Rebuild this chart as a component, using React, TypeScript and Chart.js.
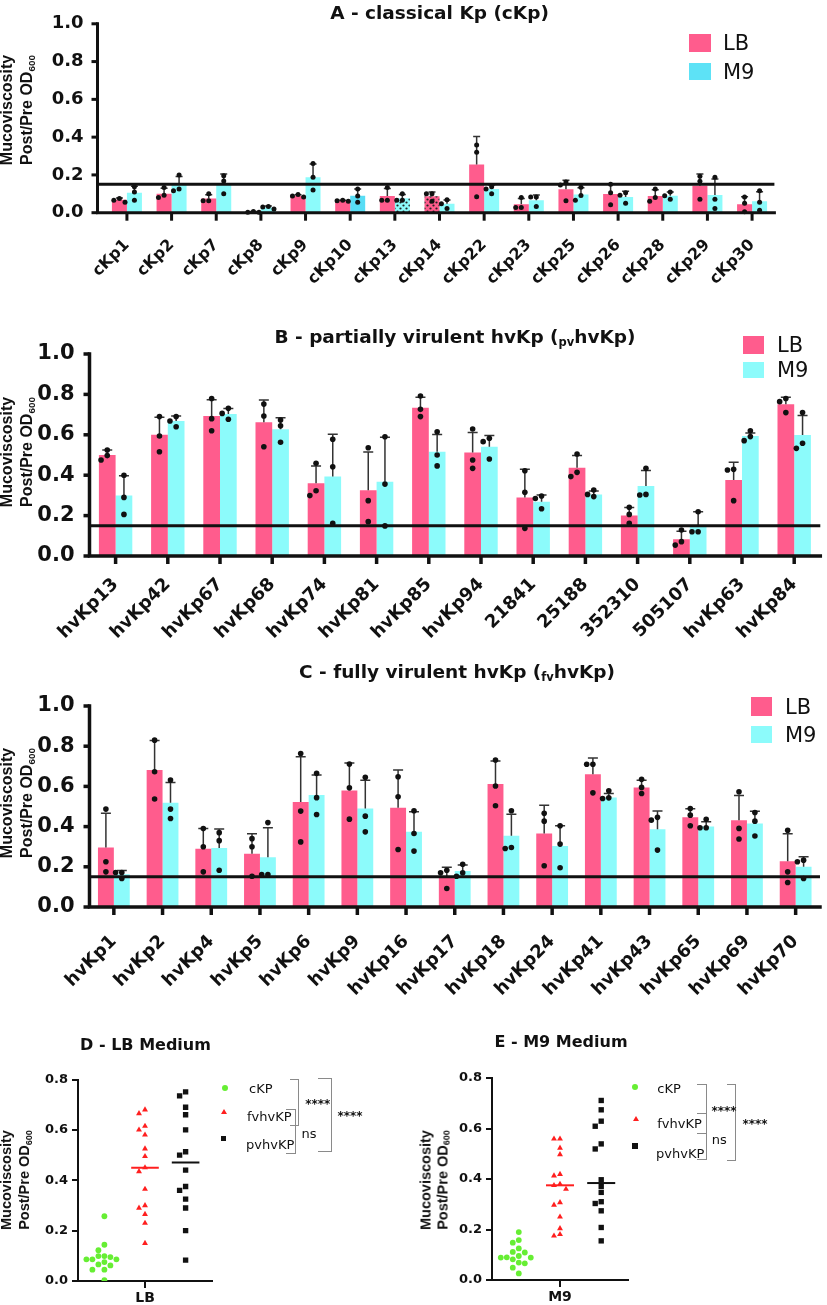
import React, { useEffect, useRef } from "react";
import { Chart, registerables } from "chart.js";
Chart.register(...registerables);

// ---------------- DATA ----------------
const THRESHOLD = 0.15;

// Panel A - classical Kp
const aLabels = ["cKp1", "cKp2", "cKp7", "cKp8", "cKp9", "cKp10", "cKp13", "cKp14", "cKp22", "cKp23", "cKp25", "cKp26", "cKp28", "cKp29", "cKp30"];
const aLBMean = [0.068, 0.1, 0.075, 0.004, 0.089, 0.063, 0.088, 0.087, 0.255, 0.045, 0.124, 0.099, 0.088, 0.143, 0.045];
const aLBSd = [0.01, 0.03, 0.02, 0.003, 0.006, 0.003, 0.04, 0.023, 0.148, 0.03, 0.048, 0.054, 0.034, 0.062, 0.04];
const aLBReps = [[0.055, 0.075, 0.066], [0.08, 0.133, 0.093], [0.063, 0.1, 0.063], [0.002, 0.007, 0.002], [0.083, 0.096, 0.088], [0.06, 0.066, 0.063], [0.066, 0.133, 0.066], [0.1, 0.1, 0.06], [0.359, 0.32, 0.085], [0.027, 0.08, 0.027], [0.163, 0.146, 0.063], [0.15, 0.105, 0.042], [0.06, 0.125, 0.08], [0.193, 0.166, 0.071], [0.083, 0.05, 0.005]];
const aM9Mean = [0.105, 0.147, 0.155, 0.028, 0.188, 0.09, 0.077, 0.047, 0.126, 0.066, 0.097, 0.083, 0.09, 0.094, 0.061];
const aM9Sd = [0.035, 0.045, 0.05, 0.007, 0.07, 0.035, 0.02, 0.02, 0.02, 0.028, 0.035, 0.03, 0.02, 0.085, 0.05];
const aM9Reps = [[0.138, 0.066, 0.11], [0.116, 0.2, 0.126], [0.196, 0.1, 0.168], [0.02, 0.033, 0.03], [0.26, 0.188, 0.12], [0.055, 0.126, 0.088], [0.1, 0.066, 0.066], [0.068, 0.022, 0.047], [0.138, 0.1, 0.125], [0.083, 0.033, 0.083], [0.066, 0.135, 0.091], [0.105, 0.093, 0.05], [0.11, 0.071, 0.09], [0.188, 0.071, 0.022], [0.116, 0.055, 0.013]];

// Panel B - partially virulent hvKp
const bLabels = ["hvKp13", "hvKp42", "hvKp67", "hvKp68", "hvKp74", "hvKp81", "hvKp85", "hvKp94", "21841", "25188", "352310", "505107", "hvKp63", "hvKp84"];
const bLBMean = [0.5, 0.6, 0.693, 0.662, 0.36, 0.325, 0.734, 0.512, 0.289, 0.437, 0.2, 0.083, 0.376, 0.751];
const bLBSd = [0.025, 0.087, 0.08, 0.11, 0.086, 0.19, 0.052, 0.1, 0.14, 0.06, 0.04, 0.04, 0.088, 0.035];
const bLBReps = [[0.475, 0.525, 0.497], [0.69, 0.594, 0.516], [0.78, 0.68, 0.62], [0.752, 0.693, 0.541], [0.459, 0.299, 0.323], [0.536, 0.274, 0.17], [0.792, 0.726, 0.69], [0.629, 0.475, 0.434], [0.422, 0.315, 0.137], [0.505, 0.393, 0.414], [0.241, 0.206, 0.162], [0.129, 0.054, 0.071], [0.429, 0.426, 0.274], [0.78, 0.764, 0.71]];
const bM9Mean = [0.3, 0.668, 0.703, 0.627, 0.393, 0.368, 0.516, 0.541, 0.269, 0.305, 0.347, 0.145, 0.594, 0.599];
const bM9Sd = [0.097, 0.025, 0.027, 0.058, 0.21, 0.22, 0.086, 0.055, 0.033, 0.017, 0.076, 0.074, 0.015, 0.096];
const bM9Reps = [[0.4, 0.29, 0.206], [0.64, 0.69, 0.668], [0.731, 0.677, 0.706], [0.673, 0.645, 0.563], [0.578, 0.442, 0.162], [0.59, 0.356, 0.149], [0.615, 0.5, 0.446], [0.583, 0.48, 0.566], [0.297, 0.285, 0.234], [0.327, 0.294, 0.305], [0.434, 0.302, 0.305], [0.219, 0.12, 0.12], [0.62, 0.571, 0.591], [0.71, 0.533, 0.558]];

// Panel C - fully virulent hvKp
const cLabels = ["hvKp1", "hvKp2", "hvKp4", "hvKp5", "hvKp6", "hvKp9", "hvKp16", "hvKp17", "hvKp18", "hvKp24", "hvKp41", "hvKp43", "hvKp65", "hvKp69", "hvKp70"];
const cLBMean = [0.296, 0.681, 0.29, 0.265, 0.522, 0.58, 0.494, 0.15, 0.612, 0.366, 0.661, 0.595, 0.446, 0.432, 0.228];
const cLBSd = [0.17, 0.147, 0.1, 0.1, 0.226, 0.137, 0.187, 0.048, 0.114, 0.14, 0.08, 0.035, 0.043, 0.123, 0.137];
const cLBReps = [[0.487, 0.225, 0.175], [0.83, 0.673, 0.537], [0.39, 0.3, 0.175], [0.34, 0.3, 0.153], [0.764, 0.477, 0.324], [0.711, 0.593, 0.437], [0.648, 0.548, 0.286], [0.183, 0.17, 0.092], [0.731, 0.602, 0.504], [0.466, 0.427, 0.205], [0.71, 0.71, 0.568], [0.635, 0.595, 0.565], [0.49, 0.457, 0.404], [0.573, 0.391, 0.338], [0.382, 0.175, 0.122]];
const cM9Mean = [0.163, 0.519, 0.294, 0.248, 0.557, 0.49, 0.374, 0.179, 0.355, 0.304, 0.545, 0.387, 0.4, 0.416, 0.2];
const cM9Sd = [0.018, 0.1, 0.094, 0.146, 0.1, 0.14, 0.1, 0.03, 0.107, 0.1, 0.02, 0.09, 0.024, 0.06, 0.05];
const cM9Reps = [[0.142, 0.172, 0.172], [0.632, 0.487, 0.44], [0.37, 0.33, 0.183], [0.162, 0.162, 0.42], [0.665, 0.544, 0.46], [0.645, 0.452, 0.374], [0.479, 0.366, 0.278], [0.153, 0.213, 0.17], [0.479, 0.291, 0.296], [0.404, 0.313, 0.195], [0.54, 0.578, 0.543], [0.446, 0.432, 0.283], [0.394, 0.436, 0.394], [0.47, 0.427, 0.353], [0.233, 0.225, 0.142]];

// Panel D - LB medium
const dCKP = [0.257, 0.144, 0.122, 0.099, 0.099, 0.095, 0.086, 0.086, 0.086, 0.075, 0.066, 0.062, 0.045, 0.045, 0.003];
const dFv = [0.68, 0.665, 0.615, 0.6, 0.58, 0.525, 0.495, 0.45, 0.435, 0.365, 0.3, 0.29, 0.265, 0.23, 0.15];
const dPv = [0.751, 0.735, 0.69, 0.66, 0.6, 0.513, 0.5, 0.44, 0.375, 0.36, 0.325, 0.29, 0.2, 0.083];

// Panel E - M9 medium
const eCKP = [0.19, 0.158, 0.148, 0.125, 0.111, 0.109, 0.095, 0.09, 0.089, 0.089, 0.082, 0.069, 0.066, 0.049, 0.026];
const eFv = [0.559, 0.559, 0.523, 0.497, 0.419, 0.413, 0.38, 0.375, 0.36, 0.307, 0.297, 0.25, 0.204, 0.181, 0.175];
const ePv = [0.711, 0.674, 0.629, 0.609, 0.539, 0.519, 0.397, 0.371, 0.347, 0.31, 0.303, 0.274, 0.208, 0.155];

// ---------------- STYLE ----------------
const FONT = "'DejaVu Sans', sans-serif";
const ARIAL = "'Liberation Sans', Arial, sans-serif";
const PINK = "#FF5C8D";
const CYAN = "#8CFBFB";
const CYAN_DARK = "#58DDF5";
const GREEN = "#66EE33";
const RED = "#FF1F1F";
const INK = "#111111";

function median(arr: number[]) {
  const s = [...arr].sort((a, b) => a - b);
  const n = s.length;
  return n % 2 ? s[(n - 1) / 2] : (s[n / 2 - 1] + s[n / 2]) / 2;
}

function swarm(ys: number[], step: number, minDist: number) {
  const order = ys.map((_, i) => i).sort((a, b) => ys[a] - ys[b]);
  const placed: { x: number; y: number }[] = [];
  const offs = ys.map(() => 0);
  for (const i of order) {
    const y = ys[i];
    for (let k = 0; k < 30; k++) {
      const m = k === 0 ? 0 : k % 2 === 1 ? -Math.ceil(k / 2) : Math.ceil(k / 2);
      const x = m * step;
      if (placed.every((p) => Math.hypot(p.x - x, p.y - y) >= minDist)) {
        offs[i] = x;
        placed.push({ x, y });
        break;
      }
    }
  }
  return offs;
}

function dotPattern(bg: string) {
  const c = document.createElement("canvas");
  c.width = 6;
  c.height = 6;
  const g = c.getContext("2d")!;
  g.fillStyle = bg;
  g.fillRect(0, 0, 6, 6);
  g.fillStyle = "#222";
  g.beginPath();
  g.arc(1.5, 1.5, 1.1, 0, Math.PI * 2);
  g.fill();
  g.beginPath();
  g.arc(4.5, 4.5, 1.1, 0, Math.PI * 2);
  g.fill();
  return g.createPattern(c, "repeat");
}

const barExtras = {
  id: "barExtras",
  afterDatasetsDraw(chart: any, _args: any, opts: any) {
    const { ctx, chartArea: ca } = chart;
    const ys = chart.scales.y;
    const xs = chart.scales.x;
    const axisX = opts.axisX;
    ctx.save();
    // error bars (SD, upward)
    chart.data.datasets.forEach((ds: any, di: number) => {
      const meta = chart.getDatasetMeta(di);
      meta.data.forEach((bar: any, i: number) => {
        const yM = ys.getPixelForValue(ds.data[i]);
        const yT = ys.getPixelForValue(ds.data[i] + ds.sd[i]);
        ctx.strokeStyle = "#333";
        ctx.lineWidth = 1.5;
        ctx.beginPath();
        ctx.moveTo(bar.x, yM);
        ctx.lineTo(bar.x, yT);
        ctx.moveTo(bar.x - opts.cap, yT);
        ctx.lineTo(bar.x + opts.cap, yT);
        ctx.stroke();
      });
    });
    // threshold line
    const ty = ys.getPixelForValue(opts.threshold);
    ctx.strokeStyle = INK;
    ctx.lineWidth = 3;
    ctx.beginPath();
    ctx.moveTo(axisX, ty);
    ctx.lineTo(ca.right, ty);
    ctx.stroke();
    // replicate dots
    chart.data.datasets.forEach((ds: any, di: number) => {
      const meta = chart.getDatasetMeta(di);
      meta.data.forEach((bar: any, i: number) => {
        const py = ds.reps[i].map((v: number) => ys.getPixelForValue(v));
        const offs = swarm(py, opts.dotR * 2 + 0.6, opts.dotR * 2);
        ctx.fillStyle = INK;
        py.forEach((y: number, k: number) => {
          ctx.beginPath();
          ctx.arc(bar.x + offs[k], y, opts.dotR, 0, Math.PI * 2);
          ctx.fill();
        });
      });
    });
    // axes
    ctx.strokeStyle = INK;
    ctx.lineWidth = opts.axisW;
    ctx.lineCap = "square";
    ctx.beginPath();
    ctx.moveTo(axisX, ys.getPixelForValue(1));
    ctx.lineTo(axisX, ca.bottom);
    ctx.lineTo(ca.right, ca.bottom);
    ctx.stroke();
    ctx.lineCap = "butt";
    ys.ticks.forEach((t: any) => {
      const y = ys.getPixelForValue(t.value);
      ctx.beginPath();
      ctx.moveTo(axisX - opts.tick, y);
      ctx.lineTo(axisX, y);
      ctx.stroke();
    });
    xs.ticks.forEach((_t: any, i: number) => {
      const x = xs.getPixelForValue(i);
      ctx.beginPath();
      ctx.moveTo(x, ca.bottom);
      ctx.lineTo(x, ca.bottom + opts.tick + 2);
      ctx.stroke();
    });
    ctx.restore();
  },
};

const swarmPlugin = {
  id: "swarmPlugin",
  afterDatasetsUpdate(chart: any, _a: any, opts: any) {
    chart.data.datasets.forEach((ds: any, di: number) => {
      if (!ds.swarm) return;
      const meta = chart.getDatasetMeta(di);
      const ys = meta.data.map((e: any) => e.y);
      const offs = swarm(ys, opts.step, opts.minDist);
      meta.data.forEach((e: any, k: number) => {
        e.x += offs[k];
      });
    });
  },
};

// ---------------- PANEL GEOMETRY ----------------
const PANEL_A = {
  labels: aLabels, lbMean: aLBMean, lbSd: aLBSd, lbReps: aLBReps, m9Mean: aM9Mean, m9Sd: aM9Sd, m9Reps: aM9Reps,
  lbPattern: [7], m9Pattern: [6], m9Dark: [5],
  top: 0, h: 285, padTop: 12, yWidth: 104.6, padRight: 52.6, xHeight: 72.3, axisX: 97.5,
  yTickPad: 13, xTickPad: 15, xFont: 16, yFont: 18, catPct: 0.672, dotR: 2.5, cap: 3.5, tick: 6, axisW: 3,
};
const PANEL_B = {
  labels: bLabels, lbMean: bLBMean, lbSd: bLBSd, lbReps: bLBReps, m9Mean: bM9Mean, m9Sd: bM9Sd, m9Reps: bM9Reps,
  lbPattern: [], m9Pattern: [], m9Dark: [],
  top: 290, h: 370, padTop: 64, yWidth: 89.5, padRight: 6.7, xHeight: 104, axisX: 89.5,
  yTickPad: 7, xTickPad: 10, xFont: 18, yFont: 21, catPct: 0.64, dotR: 2.8, cap: 5, tick: 6, axisW: 3.5,
};
const PANEL_C = {
  labels: cLabels, lbMean: cLBMean, lbSd: cLBSd, lbReps: cLBReps, m9Mean: cM9Mean, m9Sd: cM9Sd, m9Reps: cM9Reps,
  lbPattern: [], m9Pattern: [], m9Dark: [],
  top: 660, h: 345, padTop: 46, yWidth: 89.5, padRight: 2.5, xHeight: 98, axisX: 89.5,
  yTickPad: 7, xTickPad: 16, xFont: 18, yFont: 21, catPct: 0.653, dotR: 2.8, cap: 5, tick: 6, axisW: 3.5,
};

function BarChartCanvas({ spec }: { spec: any }) {
  const ref = useRef<HTMLCanvasElement>(null);
  useEffect(() => {
    const lbColors = spec.labels.map((_: string, i: number) => (spec.lbPattern.includes(i) ? dotPattern(PINK) : PINK));
    const m9Colors = spec.labels.map((_: string, i: number) =>
      spec.m9Pattern.includes(i) ? dotPattern(CYAN) : spec.m9Dark.includes(i) ? CYAN_DARK : CYAN
    );
    const chart = new Chart(ref.current!, {
      type: "bar",
      data: {
        labels: spec.labels,
        datasets: [
          { label: "LB", data: spec.lbMean, sd: spec.lbSd, reps: spec.lbReps, backgroundColor: lbColors, categoryPercentage: spec.catPct, barPercentage: 1, borderWidth: 0 } as any,
          { label: "M9", data: spec.m9Mean, sd: spec.m9Sd, reps: spec.m9Reps, backgroundColor: m9Colors, categoryPercentage: spec.catPct, barPercentage: 1, borderWidth: 0 } as any,
        ],
      },
      options: {
        responsive: false,
        animation: false,
        devicePixelRatio: 1,
        events: [],
        layout: { padding: { top: spec.padTop, right: spec.padRight, left: 0, bottom: 0 } },
        plugins: {
          legend: { display: false },
          tooltip: { enabled: false },
          barExtras: { axisX: spec.axisX, threshold: THRESHOLD, dotR: spec.dotR, cap: spec.cap, tick: spec.tick, axisW: spec.axisW },
        } as any,
        scales: {
          x: {
            grid: { display: false },
            border: { display: false },
            ticks: {
              autoSkip: false, maxRotation: 45, minRotation: 45, padding: spec.xTickPad, color: INK,
              font: { family: FONT, weight: "bold", size: spec.xFont },
            },
            afterFit: (s: any) => { s.height = spec.xHeight; },
          },
          y: {
            min: 0, max: 1,
            grid: { display: false },
            border: { display: false },
            ticks: {
              stepSize: 0.2, padding: spec.yTickPad, color: INK,
              font: { family: FONT, weight: "bold", size: spec.yFont },
              callback: (v: any) => Number(v).toFixed(1),
            },
            afterFit: (s: any) => { s.width = spec.yWidth; },
          },
        } as any,
      },
      plugins: [barExtras],
    });
    return () => chart.destroy();
  }, []);
  return (
    <canvas ref={ref} width={827} height={spec.h}
      style={{ position: "absolute", left: 0, top: spec.top, width: 827, height: spec.h }} />
  );
}

const PANEL_D = { ckp: dCKP, fv: dFv, pv: dPv, xLabel: "LB", left: 0, top: 1030, w: 400, h: 275, padTop: 49.5, yWidth: 78, padRight: 188, xHeight: 24 };
const PANEL_E = { ckp: eCKP, fv: eFv, pv: ePv, xLabel: "M9", left: 400, top: 1030, w: 427, h: 275, padTop: 48, yWidth: 92, padRight: 199, xHeight: 25 };

function ScatterCanvas({ spec }: { spec: any }) {
  const ref = useRef<HTMLCanvasElement>(null);
  useEffect(() => {
    const fvMed = median(spec.fv);
    const pvMed = median(spec.pv);
    const chart = new Chart(ref.current!, {
      type: "scatter",
      data: {
        datasets: [
          { label: "cKP", data: spec.ckp.map((v: number) => ({ x: -1, y: v })), pointStyle: "circle", pointRadius: 2.9, backgroundColor: GREEN, borderWidth: 0, swarm: true } as any,
          { label: "fvhvKP", data: spec.fv.map((v: number) => ({ x: 0, y: v })), pointStyle: "triangle", pointRadius: 3.4, backgroundColor: RED, borderWidth: 0, swarm: true } as any,
          { label: "pvhvKP", data: spec.pv.map((v: number) => ({ x: 1, y: v })), pointStyle: "rect", pointRadius: 3.8, backgroundColor: INK, borderWidth: 0, swarm: true } as any,
          { type: "line", label: "fv median", data: [{ x: -0.34, y: fvMed }, { x: 0.34, y: fvMed }], borderColor: RED, borderWidth: 2, pointRadius: 0, order: -1 } as any,
          { type: "line", label: "pv median", data: [{ x: 0.66, y: pvMed }, { x: 1.34, y: pvMed }], borderColor: INK, borderWidth: 2, pointRadius: 0, order: -1 } as any,
        ],
      },
      options: {
        responsive: false,
        animation: false,
        devicePixelRatio: 1,
        events: [],
        layout: { padding: { top: spec.padTop, right: spec.padRight, left: 0, bottom: 0 } },
        plugins: {
          legend: { display: false },
          tooltip: { enabled: false },
          swarmPlugin: { step: 6, minDist: 5.6 },
        } as any,
        scales: {
          x: {
            type: "linear", min: -1.65, max: 1.65,
            grid: { display: true, drawOnChartArea: false, tickLength: 7, color: INK, lineWidth: 2 },
            border: { display: true, color: INK, width: 2 },
            afterBuildTicks: (axis: any) => { axis.ticks = [{ value: 0 }]; },
            ticks: { padding: 2, color: INK, font: { family: FONT, weight: "bold", size: 14 }, callback: () => spec.xLabel },
            afterFit: (s: any) => { s.height = spec.xHeight; },
          },
          y: {
            min: 0, max: 0.8,
            grid: { display: true, drawOnChartArea: false, tickLength: 6, color: INK, lineWidth: 2 },
            border: { display: true, color: INK, width: 2 },
            ticks: { stepSize: 0.2, padding: 4, color: INK, font: { family: FONT, weight: "bold", size: 13 }, callback: (v: any) => Number(v).toFixed(1) },
            afterFit: (s: any) => { s.width = spec.yWidth; },
          },
        } as any,
      },
      plugins: [swarmPlugin],
    });
    return () => chart.destroy();
  }, []);
  return (
    <canvas ref={ref} width={spec.w} height={spec.h}
      style={{ position: "absolute", left: spec.left, top: spec.top, width: spec.w, height: spec.h }} />
  );
}

// ---------------- HTML TEXT HELPERS ----------------
function Txt({ x, y, size, bold, anchor, family, children }: any) {
  return (
    <div style={{
      position: "absolute", left: x, top: y,
      transform: anchor === "start" ? "translate(0,-50%)" : "translate(-50%,-50%)",
      fontFamily: family || FONT, fontWeight: bold ? 700 : 400, fontSize: size, lineHeight: 1,
      whiteSpace: "nowrap", color: INK,
    }}>{children}</div>
  );
}

const Sub = ({ children }: any) => (
  <span style={{ fontSize: "0.62em", position: "relative", top: "0.3em" }}>{children}</span>
);

function YTitle({ x, y, size, gap }: any) {
  return (
    <div style={{
      position: "absolute", left: x, top: y, transform: "translate(-50%,-50%) rotate(-90deg)",
      fontFamily: ARIAL, fontWeight: 700, fontSize: size, lineHeight: `${gap}px`, textAlign: "center",
      whiteSpace: "nowrap", color: INK,
    }}>
      <div>Mucoviscosity</div>
      <div>Post/Pre OD<Sub>600</Sub></div>
    </div>
  );
}

function Box({ x1, x2, y1, y2, color }: any) {
  return <div style={{ position: "absolute", left: x1, top: y1, width: x2 - x1, height: y2 - y1, background: color }} />;
}

function Bracket({ x, y1, y2, w }: any) {
  return (
    <div style={{
      position: "absolute", left: x - w, top: y1, width: w, height: y2 - y1, boxSizing: "border-box",
      borderTop: "1.5px solid #8a8a8a", borderRight: "1.5px solid #8a8a8a", borderBottom: "1.5px solid #8a8a8a",
    }} />
  );
}

function Dot({ x, y }: any) {
  return <div style={{ position: "absolute", left: x - 3, top: y - 3, width: 6, height: 6, borderRadius: 3, background: GREEN }} />;
}
function Tri({ x, y }: any) {
  return <div style={{ position: "absolute", left: x - 3, top: y - 3, width: 0, height: 0, borderLeft: "3px solid transparent", borderRight: "3px solid transparent", borderBottom: `5.5px solid ${RED}` }} />;
}
function Sq({ x, y }: any) {
  return <div style={{ position: "absolute", left: x - 2.7, top: y - 2.7, width: 5.4, height: 5.4, background: INK }} />;
}

export default function App() {
  return (
    <div style={{ position: "absolute", left: 0, top: 0, width: 827, height: 1305, background: "#fff", overflow: "hidden" }}>
      <BarChartCanvas spec={PANEL_A} />
      <BarChartCanvas spec={PANEL_B} />
      <BarChartCanvas spec={PANEL_C} />
      <ScatterCanvas spec={PANEL_D} />
      <ScatterCanvas spec={PANEL_E} />

      {/* titles */}
      <Txt x={439.5} y={13} size={18.5} bold>A - classical Kp (cKp)</Txt>
      <Txt x={455} y={337} size={18.5} bold>B - partially virulent hvKp (<Sub>pv</Sub>hvKp)</Txt>
      <Txt x={457} y={672} size={18.5} bold>C - fully virulent hvKp (<Sub>fv</Sub>hvKp)</Txt>
      <Txt x={145.5} y={1045} size={16} bold>D - LB Medium</Txt>
      <Txt x={561} y={1042} size={16} bold>E - M9 Medium</Txt>

      {/* y-axis titles */}
      <YTitle x={18} y={110} size={16} gap={20} />
      <YTitle x={18} y={452} size={16} gap={20} />
      <YTitle x={18} y={803} size={16} gap={20} />
      <YTitle x={16} y={1180} size={14.5} gap={18} />
      <YTitle x={435} y={1180} size={14.5} gap={16.5} />

      {/* legends A/B/C */}
      <Box x1={689.3} x2={710.7} y1={34} y2={52.3} color={PINK} />
      <Box x1={689.3} x2={710.7} y1={63.3} y2={80} color={"#5DE2F6"} />
      <Txt x={723} y={43} size={21} anchor="start">LB</Txt>
      <Txt x={723} y={71.5} size={21} anchor="start">M9</Txt>

      <Box x1={743.3} x2={764.3} y1={336} y2={354} color={PINK} />
      <Box x1={743.3} x2={764.3} y1={362} y2={378} color={CYAN} />
      <Txt x={777} y={345} size={21} anchor="start">LB</Txt>
      <Txt x={777} y={370} size={21} anchor="start">M9</Txt>

      <Box x1={751} x2={772} y1={697} y2={716} color={PINK} />
      <Box x1={751} x2={772} y1={726} y2={743} color={CYAN} />
      <Txt x={785} y={706.5} size={21} anchor="start">LB</Txt>
      <Txt x={785} y={734.5} size={21} anchor="start">M9</Txt>

      {/* legend D */}
      <Dot x={225} y={1088.3} />
      <Tri x={224.3} y={1111.7} />
      <Sq x={223.3} y={1138.3} />
      <Txt x={249} y={1088} size={13} anchor="start">cKP</Txt>
      <Txt x={247} y={1116} size={13} anchor="start">fvhvKP</Txt>
      <Txt x={246} y={1144} size={13} anchor="start">pvhvKP</Txt>
      <Bracket x={299.3} y1={1079.3} y2={1126} w={9} />
      <Bracket x={296} y1={1109} y2={1154} w={10} />
      <Bracket x={331.7} y1={1078} y2={1151.7} w={13.7} />
      <Txt x={317.7} y={1104} size={12} bold>****</Txt>
      <Txt x={309} y={1132.7} size={13}>ns</Txt>
      <Txt x={350} y={1116} size={12} bold>****</Txt>

      {/* legend E */}
      <Dot x={635} y={1087.3} />
      <Tri x={636} y={1119.3} />
      <Sq x={635} y={1146} />
      <Txt x={657.3} y={1088.3} size={13} anchor="start">cKP</Txt>
      <Txt x={657.3} y={1123.3} size={13} anchor="start">fvhvKP</Txt>
      <Txt x={656} y={1152.7} size={13} anchor="start">pvhvKP</Txt>
      <Bracket x={706.7} y1={1084.3} y2={1134} w={9.7} />
      <Bracket x={706.7} y1={1113.3} y2={1160} w={9.7} />
      <Bracket x={736} y1={1084.3} y2={1160.7} w={8.7} />
      <Txt x={724} y={1111} size={12} bold>****</Txt>
      <Txt x={719.3} y={1139.3} size={13}>ns</Txt>
      <Txt x={755} y={1123.5} size={12} bold>****</Txt>
    </div>
  );
}
